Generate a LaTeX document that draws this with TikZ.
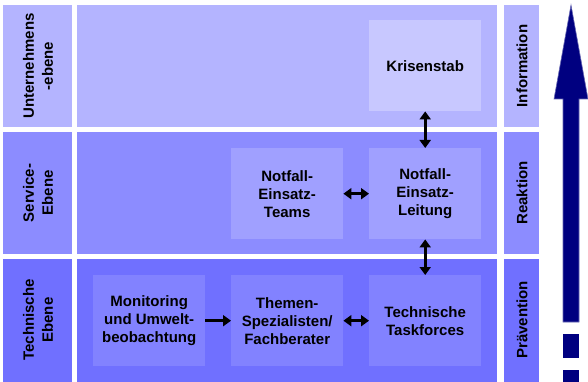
\documentclass[tikz,border=0pt]{standalone}
\usepackage{fontspec}
\setmainfont{Liberation Sans}
\usetikzlibrary{arrows.meta}
\definecolor{rowA}{HTML}{B4B4FF}
\definecolor{rowB}{HTML}{8C8CFF}
\definecolor{rowC}{HTML}{7070FF}
\definecolor{boxA}{HTML}{C8C8FF}
\definecolor{boxB}{HTML}{A0A0FF}
\definecolor{boxC}{HTML}{8282FF}
\definecolor{navy}{HTML}{000080}
\begin{document}
\begin{tikzpicture}[x=1pt,y=-1pt,
  lbl/.style={font=\bfseries\fontsize{15}{19}\selectfont,align=center,text=black},
  unit/.style={lbl,font=\bfseries\fontsize{15}{18}\selectfont,minimum width=112pt,minimum height=91pt,inner sep=0pt,anchor=north west},
  side/.style={lbl,rotate=90},
  link/.style={line width=3pt,black,>={Triangle[length=8pt,width=11pt]}}]
\useasboundingbox (0,0) rectangle (588,382);
% level bands: label column, main area, right label column
\fill[rowA] (3,5) rectangle (72,127);
\fill[rowA] (77,5) rectangle (497,127);
\fill[rowA] (504,5) rectangle (539,127);
\fill[rowB] (3,132) rectangle (72,254);
\fill[rowB] (77,132) rectangle (497,254);
\fill[rowB] (504,132) rectangle (539,254);
\fill[rowC] (3,259) rectangle (72,382);
\fill[rowC] (77,259) rectangle (497,382);
\fill[rowC] (504,259) rectangle (539,382);
% level names
\node[side] (lvA) at (38,66) {Unternehmens\\-ebene};
\node[side] (lvB) at (38,193) {Service-\\Ebene};
\node[side] (lvC) at (38,320) {Technische\\Ebene};
\node[side] (phA) at (522,66) {Information};
\node[side] (phB) at (522,193) {Reaktion};
\node[side] (phC) at (522,320) {Prävention};
% units
\node[unit,fill=boxA] (kris) at (369,20) {Krisenstab};
\node[unit,fill=boxB] (teams) at (231,148) {Notfall-\\Einsatz-\\Teams};
\node[unit,fill=boxB] (leit) at (369,148) {Notfall-\\Einsatz-\\Leitung};
\node[unit,fill=boxC] (mon) at (93,275) {Monitoring\\und Umwelt-\\beobachtung};
\node[unit,fill=boxC] (them) at (231,275) {Themen-\\Spezialisten/\\Fachberater};
\node[unit,fill=boxC] (task) at (369,275) {Technische\\Taskforces};
% connections
\draw[link,<->] (kris.south) -- (leit.north);
\draw[link,<->] (leit.south) -- (task.north);
\draw[link,<->] (teams.east) -- (leit.west);
\draw[link,<->] (them.east) -- (task.west);
\draw[link,->] (mon.east) -- (them.west);
% escalation arrow
\filldraw[navy,draw=navy!60!white,line width=0.6pt]
  (563,322) -- (563,99) -- (554,99) -- (571,5) -- (588,99) -- (579,99) -- (579,322) -- cycle;
\fill[navy] (563,334) rectangle (579,358);
\fill[navy] (563,370) rectangle (579,382);
\end{tikzpicture}
\end{document}
